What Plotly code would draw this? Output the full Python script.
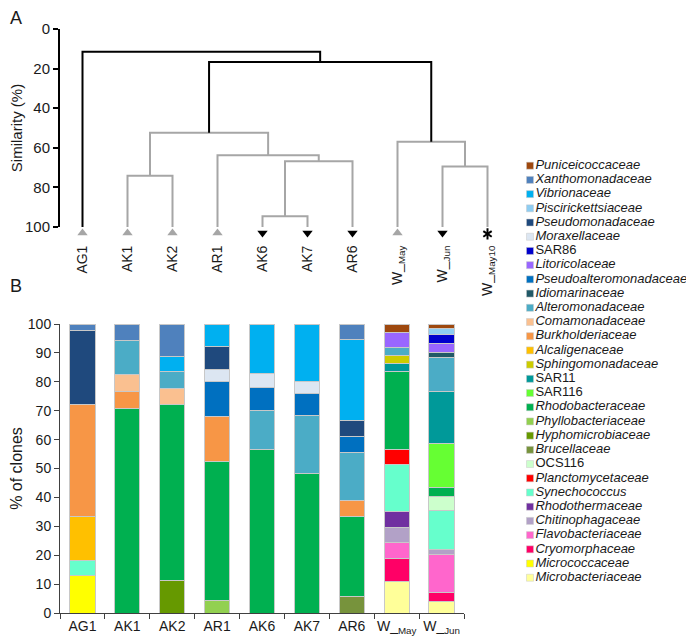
import plotly.graph_objects as go

FONT = "Liberation Sans, Arial, sans-serif"

# ---------------- Panel A: dendrogram data ----------------
leaves = ["AG1", "AK1", "AK2", "AR1", "AK6", "AK7", "AR6", "W_May", "W_Jun", "W_May10"]
leaf_text = ["AG1", "AK1", "AK2", "AR1", "AK6", "AK7", "AR6",
             "W_<sub>May</sub>", "W_<sub>Jun</sub>", "W_<sub>May10</sub>"]
leaf_marker = ["up", "up", "up", "up", "down", "down", "down", "up", "down", "star"]
# merges: (child_a, child_b, similarity %) ; leaves are 0..9, new clusters 10..
merges = [
    (4, 5, 94.6),
    (1, 2, 74.1),
    (10, 6, 66.8),
    (8, 9, 69.5),
    (3, 12, 63.8),
    (11, 14, 52.4),
    (7, 13, 56.9),
    (15, 16, 16.7),
    (0, 17, 11.5),
]

# ---------------- Panel B: stacked bar data ----------------
samples = ["AG1", "AK1", "AK2", "AR1", "AK6", "AK7", "AR6", "W_May", "W_Jun"]
sample_text = ["AG1", "AK1", "AK2", "AR1", "AK6", "AK7", "AR6",
               "W_<sub>May</sub>", "W_<sub>Jun</sub>"]

families = ["Puniceicoccaceae", "Xanthomonadaceae", "Vibrionaceae", "Piscirickettsiaceae",
            "Pseudomonadaceae", "Moraxellaceae", "SAR86", "Litoricolaceae",
            "Pseudoalteromonadaceae", "Idiomarinaceae", "Alteromonadaceae", "Comamonadaceae",
            "Burkholderiaceae", "Alcaligenaceae", "Sphingomonadaceae", "SAR11", "SAR116",
            "Rhodobacteraceae", "Phyllobacteriaceae", "Hyphomicrobiaceae", "Brucellaceae",
            "OCS116", "Planctomycetaceae", "Synechococcus", "Rhodothermaceae",
            "Chitinophagaceae", "Flavobacteriaceae", "Cryomorphaceae", "Micrococcaceae",
            "Microbacteriaceae"]
italic = [f not in ("SAR86", "SAR11", "SAR116", "OCS116") for f in families]
colors = ["#9E480E", "#4F81BD", "#00B0F0", "#8ECDF2",
          "#1F497D", "#DCE6F2", "#0000CC", "#9966FF",
          "#0070C0", "#215967", "#4BACC6", "#FAC090",
          "#F79646", "#FFC000", "#CCCC00", "#009999", "#66FF33",
          "#00B050", "#92D050", "#669900", "#77933C",
          "#CCFFCC", "#FF0000", "#66FFCC", "#7030A0",
          "#B2A1C7", "#FF66CC", "#FF0066", "#FFFF00",
          "#FFFF99"]

ag1 = {"Micrococcaceae": 13.0, "Synechococcus": 5.2, "Alcaligenaceae": 15.3,
       "Burkholderiaceae": 38.5, "Pseudomonadaceae": 25.8, "Xanthomonadaceae": 2.2}
ak1 = {"Rhodobacteraceae": 70.6, "Burkholderiaceae": 5.9, "Comamonadaceae": 5.9,
       "Alteromonadaceae": 11.8, "Xanthomonadaceae": 5.8}
ak2 = {"Hyphomicrobiaceae": 11.1, "Rhodobacteraceae": 61.1, "Comamonadaceae": 5.6,
       "Alteromonadaceae": 5.6, "Vibrionaceae": 5.5, "Xanthomonadaceae": 11.1}
ar1 = {"Phyllobacteriaceae": 4.5, "Rhodobacteraceae": 47.9, "Burkholderiaceae": 15.6,
       "Pseudoalteromonadaceae": 12.0, "Moraxellaceae": 4.2, "Pseudomonadaceae": 8.1,
       "Vibrionaceae": 7.7}
ak6 = {"Rhodobacteraceae": 56.7, "Alteromonadaceae": 13.2, "Pseudoalteromonadaceae": 8.3,
       "Moraxellaceae": 4.7, "Vibrionaceae": 17.1}
ak7 = {"Rhodobacteraceae": 48.3, "Alteromonadaceae": 19.9, "Pseudoalteromonadaceae": 7.8,
       "Moraxellaceae": 4.1, "Vibrionaceae": 19.9}
ar6 = {"Brucellaceae": 5.6, "Rhodobacteraceae": 27.8, "Burkholderiaceae": 5.5,
       "Alteromonadaceae": 16.7, "Pseudoalteromonadaceae": 5.5, "Pseudomonadaceae": 5.6,
       "Vibrionaceae": 27.8, "Xanthomonadaceae": 5.5}
w_may = {"Microbacteriaceae": 10.8, "Cryomorphaceae": 8.1, "Flavobacteriaceae": 5.4,
         "Chitinophagaceae": 5.4, "Rhodothermaceae": 5.4, "Synechococcus": 16.2,
         "Planctomycetaceae": 5.4, "Rhodobacteraceae": 27.0, "SAR11": 2.7,
         "Sphingomonadaceae": 2.7, "Alteromonadaceae": 2.7, "Litoricolaceae": 5.4,
         "Puniceicoccaceae": 2.8}
w_jun = {"Microbacteriaceae": 3.9, "Cryomorphaceae": 3.1, "Flavobacteriaceae": 13.4,
         "Chitinophagaceae": 1.7, "Synechococcus": 13.5, "OCS116": 4.6,
         "Rhodobacteraceae": 3.2, "SAR116": 15.2, "SAR11": 18.0, "Alteromonadaceae": 11.8,
         "Idiomarinaceae": 1.7, "Litoricolaceae": 3.3, "SAR86": 3.1,
         "Piscirickettsiaceae": 2.1, "Puniceicoccaceae": 1.4}
compositions = [ag1, ak1, ak2, ar1, ak6, ak7, ar6, w_may, w_jun]

fig = go.Figure()

# ---------------- stacked bars (bottom = last family) ----------------
for fam, col in reversed(list(zip(families, colors))):
    vals = [comp.get(fam) for comp in compositions]
    if all(v is None for v in vals):
        continue
    fig.add_trace(go.Bar(
        x=samples, y=vals, name=fam, marker=dict(color=col, line=dict(color="#C8C8C8", width=1)),
        xaxis="x", yaxis="y", showlegend=False, hoverinfo="x+y+name"))

# ---------------- dendrogram ----------------
pos = {i: float(i) for i in range(len(leaves))}
height = {i: 100.0 for i in range(len(leaves))}
segs = {"black": ([], []), "gray": ([], [])}
for k, (a, b, h) in enumerate(merges):
    nid = len(leaves) + k
    key = "black" if h < 20 else "gray"
    xs, ys = segs[key]
    xs += [pos[a], pos[a], pos[b], pos[b], None]
    ys += [height[a], h, h, height[b], None]
    pos[nid] = (pos[a] + pos[b]) / 2
    height[nid] = h

fig.add_trace(go.Scatter(x=segs["gray"][0], y=segs["gray"][1], mode="lines",
                         line=dict(color="#A6A6A6", width=2), xaxis="x2", yaxis="y2",
                         showlegend=False, hoverinfo="skip"))
fig.add_trace(go.Scatter(x=segs["black"][0], y=segs["black"][1], mode="lines",
                         line=dict(color="#000000", width=2), xaxis="x2", yaxis="y2",
                         showlegend=False, hoverinfo="skip"))

# leaf markers on an invisible companion axis (same scale, slightly taller domain)
for kind, sym, col in [("up", "triangle-up", "#A6A6A6"), ("down", "triangle-down", "#000000")]:
    idx = [i for i, m in enumerate(leaf_marker) if m == kind]
    fig.add_trace(go.Scatter(x=idx, y=[103] * len(idx), mode="markers",
                             marker=dict(symbol=sym, size=9, color=col),
                             xaxis="x2", yaxis="y4",
                             showlegend=False, hoverinfo="skip"))
idx = [i for i, m in enumerate(leaf_marker) if m == "star"]
fig.add_trace(go.Scatter(x=idx * 2, y=[103.5] * (2 * len(idx)), mode="markers",
                         marker=dict(symbol=["y-up-open"] * len(idx) + ["y-down-open"] * len(idx),
                                     size=7, color="#000000", line=dict(color="#000000", width=2)),
                         xaxis="x2", yaxis="y4",
                         showlegend=False, hoverinfo="skip"))

# ---------------- legend (drawn as a marker/text trace) ----------------
leg_text = [("<i>%s</i>" % f) if it else f for f, it in zip(families, italic)]
fig.add_trace(go.Scatter(
    x=[0] * len(families), y=list(range(len(families))), mode="markers+text",
    marker=dict(symbol="square", size=7, color=colors, line=dict(color="#C8C8C8", width=0.5)),
    text=leg_text, textposition="middle right",
    textfont=dict(size=13, color="#1a1a1a", family=FONT),
    xaxis="x3", yaxis="y3", cliponaxis=False, showlegend=False, hoverinfo="skip"))

W, H = 694, 643
OFF = 8  # page body margin
def px(x): return (x - OFF) / W
def py(y): return 1 - (y - OFF) / H

axis_font = dict(size=14, color="#1a1a1a", family=FONT)
unit_a = (227 - 29) / 100.0

fig.update_layout(
    width=W, height=H, margin=dict(l=0, r=0, t=0, b=0),
    paper_bgcolor="white", plot_bgcolor="rgba(0,0,0,0)",
    barmode="stack", bargap=0.44, showlegend=False,
    font=dict(family=FONT, color="#1a1a1a"),
    xaxis=dict(domain=[px(60), px(464)], anchor="y", type="category",
               categoryorder="array", categoryarray=samples,
               tickvals=samples, ticktext=sample_text, tickangle=0,
               tickson="boundaries", ticks="outside", ticklen=5, tickcolor="#404040",
               showline=True, linecolor="#404040", linewidth=1,
               showgrid=False, zeroline=False, tickfont=axis_font, automargin=False),
    yaxis=dict(domain=[py(613), py(324)], anchor="x", range=[0, 100], dtick=10,
               ticks="outside", ticklen=5, tickcolor="#404040",
               showline=True, linecolor="#404040", linewidth=1,
               showgrid=False, zeroline=False, tickfont=axis_font, automargin=False,
               title=dict(text="% of clones", font=dict(size=16, family=FONT, color="#1a1a1a"),
                          standoff=6)),
    xaxis2=dict(domain=[px(60), px(510)], anchor="y2", range=[-0.5, 9.5],
                tickvals=list(range(len(leaves))), ticktext=leaf_text, tickangle=-90,
                ticks="outside", ticklen=12, tickcolor="rgba(0,0,0,0)",
                showline=False, showgrid=False, zeroline=False,
                tickfont=axis_font, automargin=False),
    yaxis2=dict(domain=[py(227), py(29)], anchor="x2", range=[100, 0], dtick=20,
                ticks="outside", ticklen=5, tickcolor="#000000", tickwidth=2,
                showline=True, linecolor="#000000", linewidth=2,
                showgrid=False, zeroline=False, tickfont=dict(size=15, family=FONT, color="#1a1a1a"),
                automargin=False,
                title=dict(text="Similarity (%)", font=dict(size=15, family=FONT, color="#1a1a1a"),
                           standoff=6)),
    yaxis4=dict(domain=[py(247), py(29)], anchor="x2", range=[(247 - 29) / unit_a, 0],
                visible=False, fixedrange=True),
    xaxis3=dict(domain=[px(520), 1], anchor="y3", range=[-(530 - 520), W - (520 - OFF) - 10],
                visible=False, fixedrange=True),
    yaxis3=dict(domain=[py(593), py(150)], anchor="x3", range=[30.075, -1.105],
                visible=False, fixedrange=True),
    annotations=[
        dict(text="A", x=0, y=py(18), xref="paper", yref="paper",
             xanchor="left", yanchor="middle", showarrow=False,
             font=dict(size=18, family=FONT, color="#1a1a1a")),
        dict(text="B", x=0, y=py(286), xref="paper", yref="paper",
             xanchor="left", yanchor="middle", showarrow=False,
             font=dict(size=18, family=FONT, color="#1a1a1a")),
    ],
)

fig.write_html("out.html")
